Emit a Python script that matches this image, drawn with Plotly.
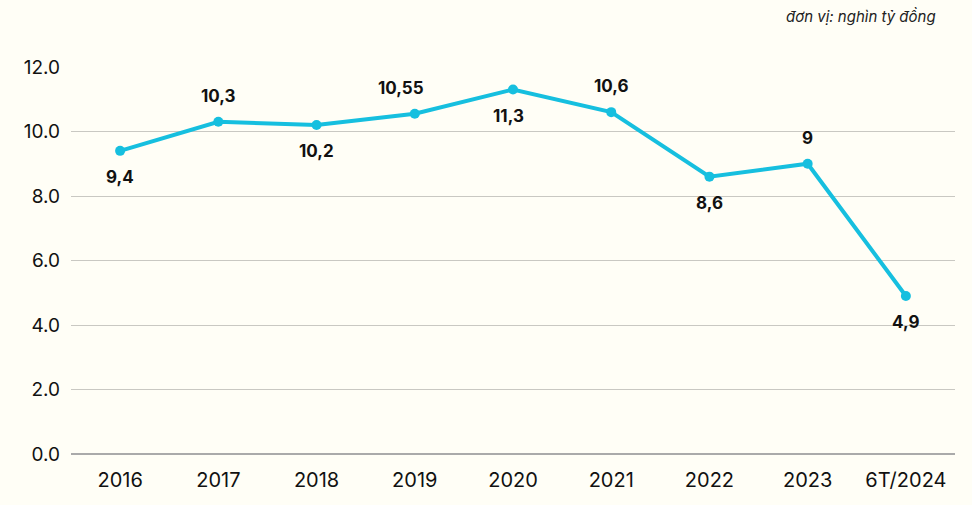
import plotly.graph_objects as go

categories = ["2016", "2017", "2018", "2019", "2020", "2021", "2022", "2023", "6T/2024"]
values = [9.4, 10.3, 10.2, 10.55, 11.3, 10.6, 8.6, 9.0, 4.9]
labels = ["9,4", "10,3", "10,2", "10,55", "11,3", "10,6", "8,6", "9", "4,9"]
label_side = ["below", "above", "below", "above", "below", "above", "below", "above", "below"]
y_ticks = [0, 2, 4, 6, 8, 10, 12]

BG = "#fffef6"
LINE = "#16bfdf"
FONT = "Inter, Lato, sans-serif"

fig = go.Figure()
fig.add_trace(go.Scatter(
    x=categories, y=values, mode="lines+markers",
    line=dict(color=LINE, width=4),
    marker=dict(color=LINE, size=10),
    hoverinfo="skip", showlegend=False,
))

for i, (v, t, s) in enumerate(zip(values, labels, label_side)):
    fig.add_annotation(
        x=i, y=v, text=t, showarrow=False,
        yshift=26 if s == "above" else -26,
        xshift=-14 if t == "10,55" else (-5 if t == "11,3" else 0),
        font=dict(family=FONT, size=17, color="#111111", weight="bold"),
    )

fig.add_annotation(
    xref="paper", yref="paper", x=1.0, y=1.0, xanchor="right", yanchor="bottom",
    yshift=39, xshift=-17,
    text="<i>đơn vị: nghìn tỷ đồng</i>", showarrow=False,
    font=dict(family=FONT, size=15, color="#222222"),
)

fig.update_layout(
    width=972, height=505,
    margin=dict(l=71, r=17, t=67, b=51),
    paper_bgcolor=BG, plot_bgcolor=BG,
    font=dict(family=FONT, size=18, color="#111111"),
)
fig.update_xaxes(
    type="category", range=[-0.5, 8.5],
    showgrid=False, showline=False, ticks="", ticklabelstandoff=12,
    tickfont=dict(size=20, color="#111111"),
)
fig.update_yaxes(
    range=[0, 12], tickvals=y_ticks, ticktext=[f"{v:.1f}" for v in y_ticks],
    showgrid=True, gridcolor="#c9c8c2", gridwidth=1,
    zeroline=True, zerolinecolor="#aaaaaa", zerolinewidth=2,
    showline=False, ticks="", ticklabelstandoff=10,
    tickfont=dict(size=19, color="#111111"),
)

fig.write_html("out.html")
